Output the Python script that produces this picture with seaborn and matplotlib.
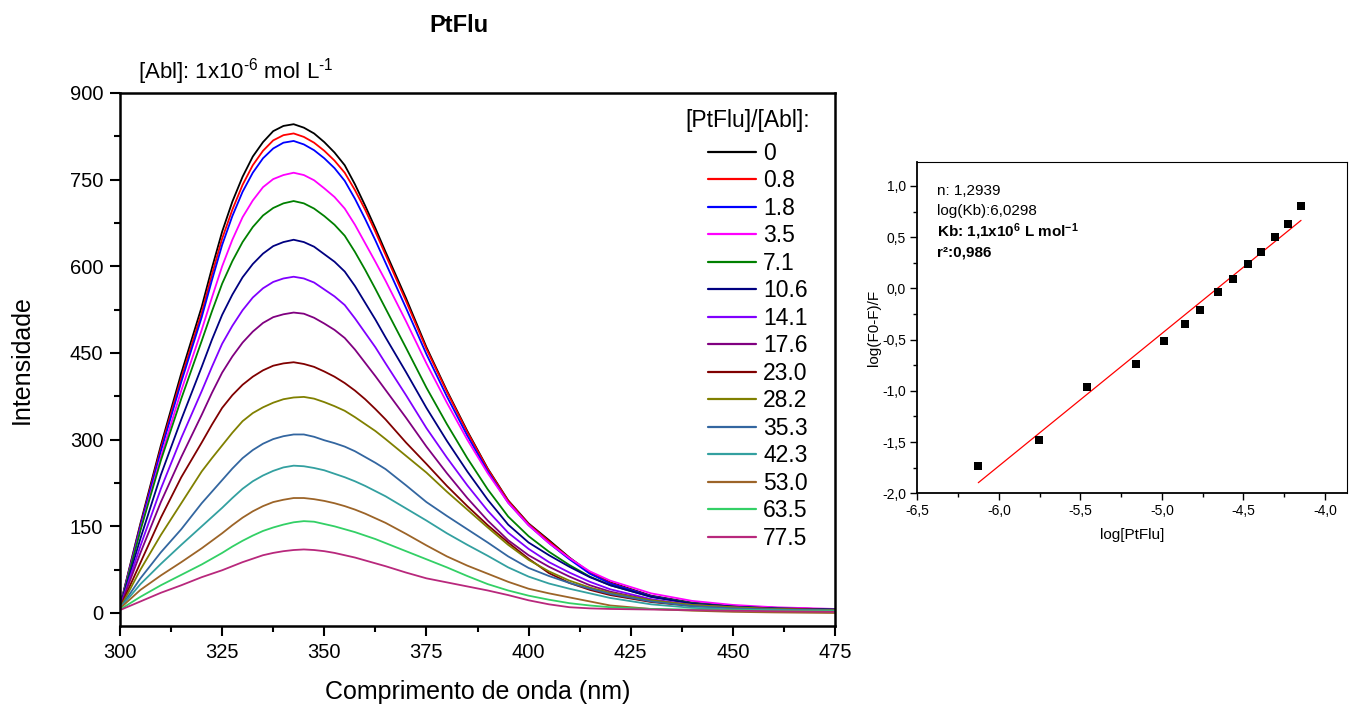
import numpy as np
import pandas as pd
import matplotlib
matplotlib.use('Agg')
import matplotlib.pyplot as plt
import seaborn as sns
from matplotlib.ticker import MultipleLocator, FuncFormatter
from matplotlib.lines import Line2D

# ---------------- data: emission spectra ----------------
wavelength = [300, 305, 310, 315, 320, 322.5, 325, 327.5, 330, 332.5, 335, 337.5, 340,
              342.5, 345, 347.5, 350, 352.5, 355, 357.5, 360, 362.5, 365, 370, 375, 380,
              385, 390, 395, 400, 405, 410, 415, 420, 430, 440, 450, 460, 475]

ratio_labels = ['0', '0.8', '1.8', '3.5', '7.1', '10.6', '14.1', '17.6', '23.0',
                '28.2', '35.3', '42.3', '53.0', '63.5', '77.5']

int_0 = [12, 155, 290, 415, 530, 597, 660, 712, 755, 790, 815, 834, 843, 846, 840, 830,
         815, 797, 775, 742, 705, 666, 625, 545, 460, 385, 315, 250, 195, 155, 126, 96,
         70, 53, 30, 18, 12, 9, 6]
int_0_8 = [11, 152, 285, 407, 520, 586, 648, 698, 741, 775, 800, 818, 827, 830, 824, 814,
           800, 783, 762, 732, 698, 660, 620, 540, 457, 383, 313, 249, 194, 154, 124, 95,
           69, 52, 29, 17, 11, 9, 6]
int_1_8 = [11, 150, 280, 400, 512, 576, 637, 687, 729, 762, 787, 804, 814, 817, 811, 801,
           787, 770, 748, 717, 682, 645, 606, 528, 448, 375, 307, 245, 191, 152, 121, 93,
           68, 51, 29, 17, 11, 9, 6]
int_3_5 = [10, 145, 270, 385, 490, 546, 600, 646, 685, 714, 737, 751, 758, 762, 758, 749,
           735, 720, 700, 672, 640, 608, 575, 505, 432, 364, 300, 242, 191, 152, 121, 95,
           72, 56, 34, 21, 14, 10, 7]
int_7_1 = [10, 143, 264, 371, 471, 522, 570, 609, 642, 668, 688, 701, 709, 713, 709, 700,
           687, 672, 653, 625, 594, 561, 527, 459, 390, 327, 268, 214, 167, 133, 106, 83,
           63, 48, 28, 17, 11, 8, 6]
int_10_6 = [10, 129, 239, 335, 426, 473, 516, 551, 581, 604, 622, 635, 642, 646, 642, 634,
            621, 608, 591, 566, 537, 508, 477, 417, 355, 298, 245, 196, 153, 122, 100, 80,
            62, 48, 28, 16, 11, 8, 6]
int_14_1 = [10, 116, 215, 303, 384, 426, 466, 497, 524, 546, 562, 573, 579, 582, 579, 572,
            560, 548, 533, 510, 485, 460, 432, 377, 320, 269, 221, 177, 139, 111, 88, 70,
            54, 41, 24, 14, 10, 7, 5]
int_17_6 = [10, 104, 192, 270, 343, 381, 416, 444, 468, 487, 502, 512, 517, 520, 518, 511,
            501, 490, 476, 456, 433, 410, 386, 338, 288, 242, 199, 160, 126, 100, 80, 63,
            48, 37, 22, 13, 9, 7, 5]
int_23_0 = [9, 87, 165, 235, 295, 326, 355, 377, 395, 409, 420, 428, 432, 434, 431, 426,
            418, 409, 398, 385, 370, 353, 335, 295, 258, 220, 185, 152, 122, 94, 69, 52,
            40, 31, 19, 12, 9, 7, 5]
int_28_2 = [8, 75, 135, 190, 245, 268, 290, 312, 332, 346, 356, 364, 370, 373, 374, 371,
            365, 358, 350, 339, 327, 315, 301, 272, 243, 210, 179, 148, 118, 92, 72, 56,
            44, 35, 22, 14, 10, 7, 5]
int_35_3 = [8, 60, 105, 145, 190, 210, 230, 250, 268, 282, 293, 301, 306, 309, 309, 305,
            299, 294, 288, 280, 270, 260, 249, 221, 192, 168, 145, 122, 98, 78, 64, 52,
            42, 33, 20, 12, 8, 6, 4]
int_42_3 = [8, 50, 85, 118, 150, 166, 182, 199, 215, 228, 238, 246, 252, 255, 254, 251,
            247, 241, 235, 228, 220, 211, 202, 181, 160, 138, 118, 99, 79, 63, 51, 42,
            34, 26, 15, 9, 6, 5, 4]
int_53_0 = [8, 40, 65, 88, 112, 125, 138, 152, 165, 176, 185, 192, 196, 199, 199, 197,
            194, 190, 185, 179, 172, 164, 156, 137, 117, 98, 82, 68, 54, 42, 34, 27,
            20, 13, 7, 4, 2, 1, 0]
int_63_5 = [6, 28, 48, 66, 84, 94, 104, 115, 125, 134, 142, 148, 153, 157, 159, 158,
            154, 150, 145, 140, 134, 128, 121, 107, 93, 79, 64, 50, 39, 30, 23, 17,
            13, 10, 7, 6, 5, 4, 3]
int_77_5 = [5, 20, 35, 48, 62, 68, 74, 81, 88, 94, 100, 104, 107, 109, 110, 109,
            107, 104, 100, 96, 91, 86, 81, 70, 60, 53, 46, 39, 31, 22, 15, 10,
            8, 7, 6, 5, 4, 3, 2]

curve_colors = ['#000000', '#FF0000', '#0000FF', '#FF00FF', '#008000', '#000080',
                '#8000FF', '#800080', '#800000', '#808000', '#3366A0', '#33A0A0',
                '#9C6428', '#33D066', '#B8287C']

# ---------------- data: double-log plot ----------------
log_ptflu = [-6.126, -5.756, -5.457, -5.157, -4.985, -4.859, -4.764, -4.654,
             -4.564, -4.474, -4.395, -4.305, -4.229, -4.147]
log_quench = [-1.733, -1.480, -0.966, -0.738, -0.510, -0.350, -0.211, -0.032,
              0.095, 0.235, 0.356, 0.499, 0.632, 0.808]
n_sites = 1.2939
log_kb = 6.0298

# ---------------- style ----------------
sns.set_style('ticks')
plt.rcParams['font.family'] = ['Liberation Sans', 'DejaVu Sans']
plt.rcParams['mathtext.fontset'] = 'custom'
plt.rcParams['mathtext.rm'] = 'Liberation Sans'
plt.rcParams['mathtext.it'] = 'Liberation Sans:italic'
plt.rcParams['mathtext.bf'] = 'Liberation Sans:bold'
plt.rcParams['axes.unicode_minus'] = False
for key in ('text.color', 'axes.labelcolor', 'xtick.color', 'ytick.color',
            'xtick.labelcolor', 'ytick.labelcolor'):
    plt.rcParams[key] = 'black'

spectra = [int_0, int_0_8, int_1_8, int_3_5, int_7_1, int_10_6, int_14_1, int_17_6,
           int_23_0, int_28_2, int_35_3, int_42_3, int_53_0, int_63_5, int_77_5]
rows = []
for lab, vals in zip(ratio_labels, spectra):
    for w, v in zip(wavelength, vals):
        rows.append({'wl': w, 'I': v, 'ratio': lab})
df = pd.DataFrame(rows)

W, H = 1357, 704
fig = plt.figure(figsize=(W / 100, H / 100), dpi=100)

# ---------------- main panel ----------------
ax = fig.add_axes([120 / W, (H - 626) / H, 715 / W, 533 / H])
sns.lineplot(data=df, x='wl', y='I', hue='ratio', hue_order=ratio_labels,
             palette=curve_colors, ax=ax, linewidth=1.3, legend=False,
             estimator=None, sort=False)
ax.set_xlim(300, 475)
ax.set_ylim(-22.5, 900)
ax.xaxis.set_major_locator(MultipleLocator(25))
ax.xaxis.set_minor_locator(MultipleLocator(12.5))
ax.yaxis.set_major_locator(MultipleLocator(150))
ax.yaxis.set_minor_locator(MultipleLocator(75))
ax.tick_params(which='major', direction='out', length=7, width=1.5, labelsize=14.5,
               top=False, right=False, pad=5, colors='black')
ax.tick_params(which='minor', direction='out', length=4, width=1.5,
               top=False, right=False, colors='black')
for s in ax.spines.values():
    s.set_linewidth(1.8)
    s.set_color('black')
ax.set_xlabel('Comprimento de onda (nm)', fontsize=18, labelpad=13, color='black')
ax.set_ylabel('Intensidade', fontsize=18, labelpad=26, color='black')

leg_handles = [Line2D([], [], color=c, lw=1.6) for c in curve_colors]
leg = ax.legend(leg_handles, ratio_labels, loc='upper left',
                bbox_to_anchor=((708 - 120) / 715, (626 - 142) / 533),
                frameon=False, fontsize=16.5, handlelength=2.1, handletextpad=0.3,
                labelspacing=0.195, borderpad=0, borderaxespad=0)
for t in leg.get_texts():
    t.set_color('black')
ax.text((685 - 120) / 715, (626 - 121) / 533, '[PtFlu]/[Abl]:', transform=ax.transAxes,
        fontsize=16.5, ha='left', va='center', color='black')

fig.text(459 / W, 1 - 26 / H, 'PtFlu', fontsize=17, fontweight='bold',
         ha='center', va='center', color='black')
fig.text(138 / W, 1 - 72 / H, r'[Abl]: 1x10$^{\text{-6}}$ mol L$^{\text{-1}}$', fontsize=16,
         ha='left', va='center', color='black')

# ---------------- inset panel ----------------
ax2 = fig.add_axes([917.3 / W, (H - 493.3) / H, (1347 - 917.3) / W, (493.3 - 161.7) / H])
sns.scatterplot(x=log_ptflu, y=log_quench, marker='s', color='black', s=36,
                linewidth=0, ax=ax2, zorder=3)
fit_x = np.array([min(log_ptflu), max(log_ptflu)])
fit_y = n_sites * fit_x + log_kb
sns.lineplot(x=fit_x, y=fit_y, color='red', linewidth=0.9, ax=ax2)
ax2.set_xlim(-6.5, -3.865)
ax2.set_ylim(-2.0, 1.237)
ax2.xaxis.set_major_locator(MultipleLocator(0.5))
ax2.xaxis.set_minor_locator(MultipleLocator(0.25))
ax2.yaxis.set_major_locator(MultipleLocator(0.5))
ax2.yaxis.set_minor_locator(MultipleLocator(0.25))
comma = FuncFormatter(lambda v, p: f'{v:.1f}'.replace('.', ',').replace('-0,0', '0,0'))
ax2.xaxis.set_major_formatter(comma)
ax2.yaxis.set_major_formatter(comma)
ax2.tick_params(which='major', direction='out', length=5, width=1, labelsize=10,
                top=False, right=False, pad=3, colors='black')
ax2.tick_params(which='minor', direction='out', length=3, width=1,
                top=False, right=False, colors='black')
for k, s in ax2.spines.items():
    s.set_color('black')
    s.set_linewidth(1.3 if k in ('left', 'bottom') else 0.8)
ax2.set_xlabel('log[PtFlu]', fontsize=11, labelpad=7, color='black')
ax2.set_ylabel('log(F0-F)/F', fontsize=11, labelpad=1, color='black')

tx = (937.3 - 917.3) / (1347 - 917.3)
ax2.text(tx, 0.9125, 'n: 1,2939', transform=ax2.transAxes, fontsize=11, va='center')
ax2.text(tx, 0.852, 'log(Kb):6,0298', transform=ax2.transAxes, fontsize=11, va='center')
ax2.text(tx, 0.789, r'Kb: 1,1x10$^{\mathbf{6}}$ L mol$^{\mathbf{-1}}$', transform=ax2.transAxes,
         fontsize=11, fontweight='bold', va='center')
ax2.text(tx, 0.7256, 'r²:0,986', transform=ax2.transAxes, fontsize=11,
         fontweight='bold', va='center')

fig.savefig('out.png', dpi=100)
